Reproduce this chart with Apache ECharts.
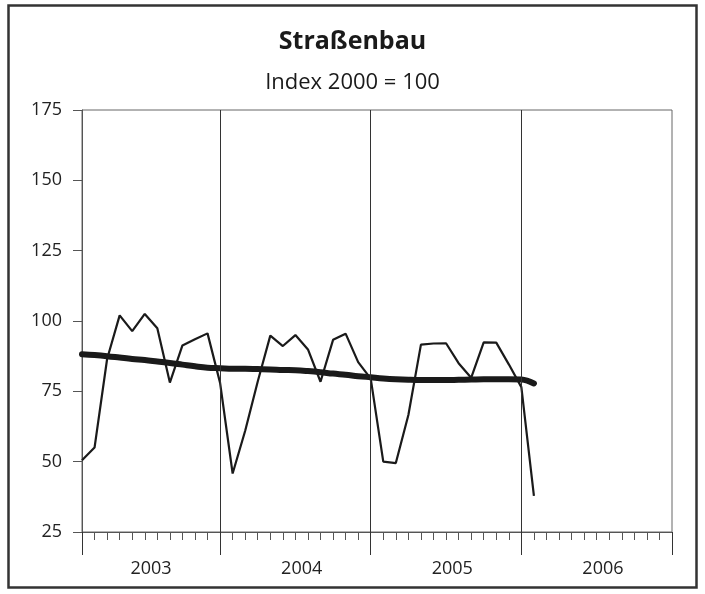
<!DOCTYPE html>
<html>
<head>
<meta charset="utf-8">
<script src="https://cdn.jsdelivr.net/npm/echarts@6/dist/echarts.min.js"></script>
<style>
html,body{margin:0;padding:0;background:#fff;}
#chart{width:705px;height:594px;}
</style>
</head>
<body>
<div id="chart"></div>
<script>
// Monthly index values, Jan 2003 .. Jan 2006
var monthlyValues = [
  50.5, 55, 86.5, 102, 96.4, 102.5, 97.4, 78.1, 91.3, 93.5, 95.6, 78,
  45.8, 61, 78.5, 94.8, 91.1, 95.0, 89.9, 78.4, 93.3, 95.5, 85.4, 79.5,
  50, 49.5, 66.6, 91.6, 92.0, 92.1, 85.0, 79.8, 92.4, 92.3, 84.6, 76.5,
  37.8
];
// Trend line values
var trendValues = [
  88.2, 87.9, 87.5, 87.0, 86.5, 86.1, 85.6, 85.1, 84.5, 83.9, 83.4, 83.2,
  83.0, 83.0, 82.9, 82.8, 82.6, 82.5, 82.2, 81.8, 81.3, 80.9, 80.4, 80.0,
  79.6, 79.3, 79.1, 79.0, 79.0, 79.0, 79.1, 79.2, 79.3, 79.3, 79.3, 79.2,
  77.8
];
var yearLabels = ['2003', '2004', '2005', '2006'];
var monthsTotal = 48;
var yearEndIdx = [11, 23, 35];
var yearLabelPos = [5.5, 17.5, 29.5, 41.5];
var longTickPos = [0, 11, 23, 35, 47];

var monthTicks = [];
for (var i = 0; i < monthsTotal; i++) monthTicks.push(i);
function toPairs(arr){ return arr.map(function(v,i){ return [i, v]; }); }

var FONT = '"Open Sans", "Noto Sans", sans-serif';
var chart = echarts.init(document.getElementById('chart'), null, {renderer:'canvas'});
chart.setOption({
  animation: false,
  backgroundColor: '#fff',
  textStyle: {fontFamily: FONT},
  title: [
    {text: 'Straßenbau', left: 'center', top: 24,
     textStyle: {fontFamily: FONT, fontSize: 25, fontWeight: 'bold', color: '#1a1a1a'}},
    {text: 'Index 2000 = 100', left: 'center', top: 67,
     textStyle: {fontFamily: FONT, fontSize: 22, fontWeight: 'normal', color: '#1a1a1a'}}
  ],
  graphic: [{
    type: 'rect', shape: {x: 8.5, y: 5.5, width: 688, height: 582},
    style: {fill: 'none', stroke: '#333', lineWidth: 2.5}, silent: true
  }],
  grid: {left: 82, right: 33, top: 110, bottom: 62, show: true,
         borderColor: '#666', borderWidth: 1, backgroundColor: 'transparent'},
  xAxis: [
    {type: 'value', min: 0, max: monthsTotal - 1, position: 'bottom',
     axisLine: {show: true, onZero: false, lineStyle: {color: '#555', width: 1}},
     axisTick: {show: true, customValues: monthTicks, length: 8, lineStyle: {color: '#555'}},
     axisLabel: {show: true, customValues: yearLabelPos, margin: 28,
       fontSize: 18, color: '#222', fontFamily: FONT,
       formatter: function(v){ return yearLabels[Math.floor(v / 12)]; }},
     splitLine: {show: false}},
    {type: 'value', min: 0, max: monthsTotal - 1, position: 'bottom', offset: 0,
     axisLine: {show: false},
     axisTick: {show: true, customValues: longTickPos, length: 23, lineStyle: {color: '#333'}},
     axisLabel: {show: false},
     splitLine: {show: false}}
  ],
  yAxis: {type: 'value', min: 25, max: 175, interval: 25,
    axisLine: {show: true, lineStyle: {color: '#555'}},
    axisTick: {show: true, length: 9, lineStyle: {color: '#555'}},
    axisLabel: {margin: 20, fontSize: 18, color: '#222', fontFamily: FONT},
    splitLine: {show: false}},
  series: [
    {type: 'line', data: toPairs(monthlyValues), showSymbol: false, smooth: false,
     lineStyle: {color: '#1a1a1a', width: 2.2}, z: 3,
     markLine: {silent: true, symbol: 'none', label: {show: false},
       lineStyle: {color: '#333', width: 1, type: 'solid'},
       data: yearEndIdx.map(function(x){ return {xAxis: x}; })}},
    {type: 'line', data: toPairs(trendValues), showSymbol: false, smooth: 0.4,
     lineStyle: {color: '#1a1a1a', width: 6, cap: 'round'}, z: 4}
  ]
});
</script>
</body>
</html>
